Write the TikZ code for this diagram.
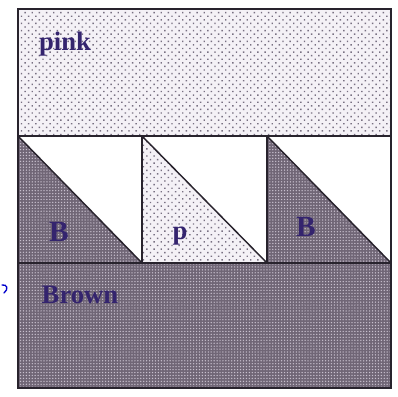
\documentclass[tikz,border=0pt]{standalone}
\usepackage{fontspec}
\setmainfont{Liberation Serif}
\usetikzlibrary{patterns.meta}
\definecolor{ink}{RGB}{52,36,110}
\definecolor{pinkbg}{RGB}{244,241,246}
\definecolor{pinkdot}{RGB}{120,112,130}
\definecolor{brownbg}{RGB}{112,102,118}
\definecolor{browndot}{RGB}{200,192,206}
\definecolor{edge}{RGB}{40,35,45}
\tikzset{
  pinkfill/.style={fill=pinkbg, postaction={pattern={Dots[distance=3.8pt,radius=0.75pt,angle=45]}, pattern color=pinkdot}},
  brownfill/.style={fill=brownbg, postaction={pattern={Dots[distance=2.2pt,radius=0.55pt]}, pattern color=browndot}},
  edgeline/.style={draw=edge, line width=1.1pt},
  lab/.style={text=ink, font=\fontsize{20}{22}\selectfont\bfseries, inner sep=0pt},
}
\begin{document}
\begin{tikzpicture}[x=0.75pt,y=-0.75pt]
\useasboundingbox (0,0) rectangle (398,396);
% fills
\fill[pinkfill] (18,9) rectangle (391,136);
\fill[brownfill] (18,263) rectangle (391,388);
\fill[brownfill] (18,136) -- (18,263) -- (142,263) -- cycle;
\fill[pinkfill] (142,136) -- (142,263) -- (267,263) -- cycle;
\fill[brownfill] (267,136) -- (267,263) -- (391,263) -- cycle;
% lines
\draw[edgeline] (18,9) rectangle (391,388);
\draw[edgeline] (18,136) -- (391,136);
\draw[edgeline] (18,263) -- (391,263);
\draw[edgeline] (142,136) -- (142,263);
\draw[edgeline] (267,136) -- (267,263);
\draw[edgeline] (18,136) -- (142,263);
\draw[edgeline] (142,136) -- (267,263);
\draw[edgeline] (267,136) -- (391,263);
% labels
\node[lab] (pinklab) at (65,44) {pink};
\node[lab, font=\fontsize{22}{24}\selectfont\bfseries] (b1) at (59,232) {B};
\node[lab] (p) at (180,236) {p};
\node[lab, font=\fontsize{22}{24}\selectfont\bfseries] (b2) at (306,227) {B};
\node[lab] (brown) at (80,295) {Brown};
% stray blue mark
\draw[blue!80!black, line width=1pt, line cap=round] (2,285) .. controls (7,284) and (9,289) .. (4,293);
\end{tikzpicture}
\end{document}
